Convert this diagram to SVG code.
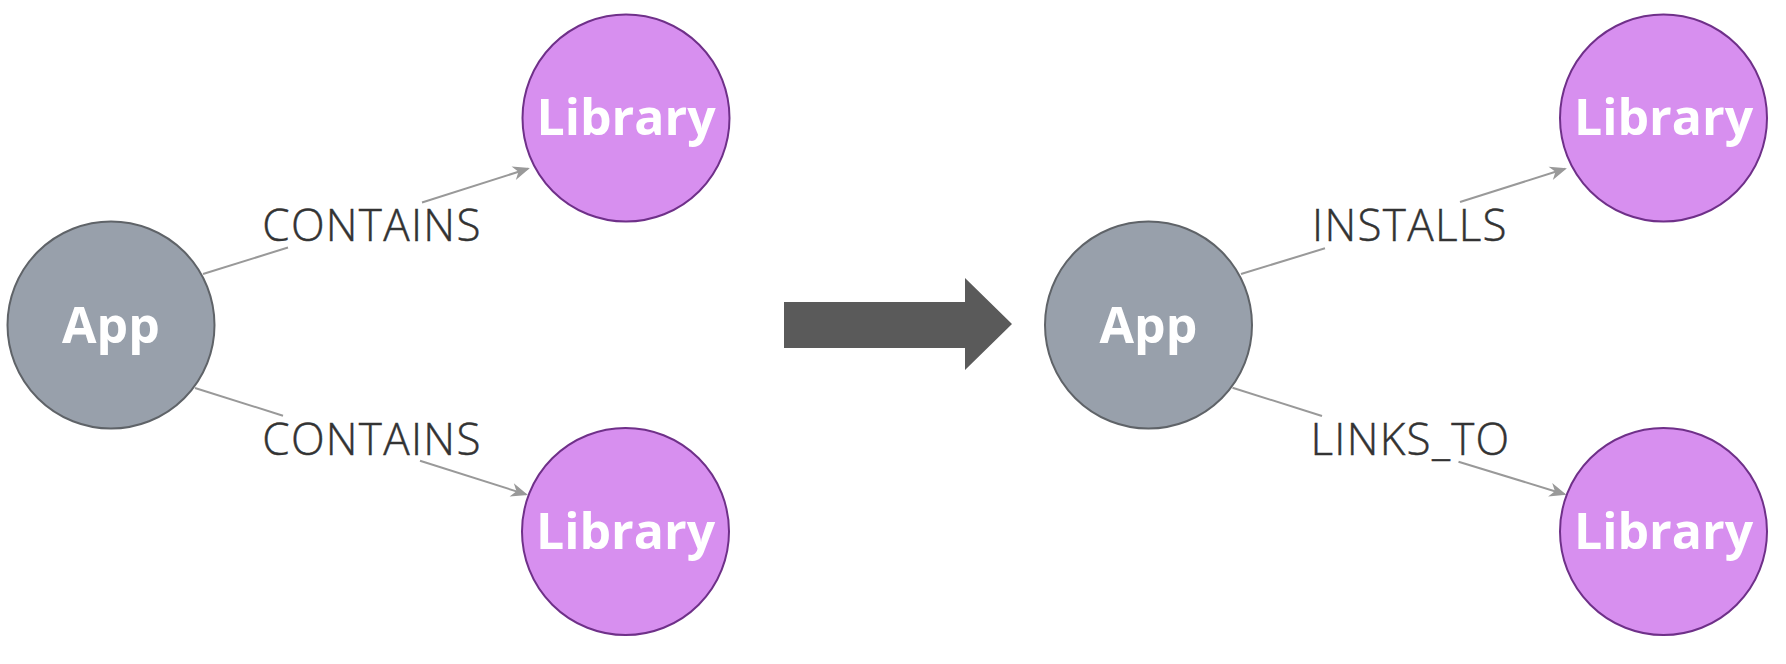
<svg xmlns="http://www.w3.org/2000/svg" width="1786" height="664" viewBox="0 0 1786 664">
<defs>
<style>
.app{fill:#98a0ab;stroke:#5f6368;stroke-width:2}
.lib{fill:#d78fef;stroke:#6f3089;stroke-width:2}
.nt{font-family:"Open Sans","Noto Sans",sans-serif;font-weight:bold;font-size:50px;fill:#ffffff;text-anchor:middle}
.el{font-family:"Open Sans","Noto Sans",sans-serif;font-weight:300;font-size:44px;fill:#333333;stroke:#333333;stroke-width:0.45;text-anchor:middle;letter-spacing:1.3px}
.edge{stroke:#999999;stroke-width:2;fill:none}
</style>
<marker id="ah" markerUnits="userSpaceOnUse" markerWidth="24" markerHeight="16" viewBox="-16 -8 20 16" refX="0" refY="0" orient="auto">
<path d="M2,0 L-15,-7 L-10,0 L-15,7 Z" fill="#999999"/>
</marker>
</defs>
<rect width="1786" height="664" fill="#ffffff"/>
<g id="connectors">
<line class="edge" x1="203" y1="274" x2="288" y2="247.5"/>
<line class="edge" x1="422" y1="202.5" x2="528" y2="168.7" marker-end="url(#ah)"/>
<text class="el" x="372" y="241">CONTAINS</text>
<line class="edge" x1="195" y1="388" x2="283" y2="415.7"/>
<line class="edge" x1="420" y1="460.7" x2="526" y2="494.4" marker-end="url(#ah)"/>
<text class="el" x="372" y="455">CONTAINS</text>
<line class="edge" x1="1241" y1="274" x2="1325" y2="248.3"/>
<line class="edge" x1="1460" y1="202" x2="1565" y2="168.8" marker-end="url(#ah)"/>
<text class="el" x="1410" y="241">INSTALLS</text>
<line class="edge" x1="1232.5" y1="387.7" x2="1322" y2="416"/>
<line class="edge" x1="1458.5" y1="461.7" x2="1564.5" y2="494.2" marker-end="url(#ah)"/>
<text class="el" x="1410.5" y="455">LINKS_TO</text>
</g>
<g id="transform-arrow">
<polygon points="784,302 965,302 965,278 1012,324 965,370 965,348 784,348" fill="#5a5a5a"/>
</g>
<g id="app-left">
<circle class="app" cx="111" cy="325" r="103.5"/>
<text class="nt" x="111" y="343">App</text>
</g>
<g id="lib-left-top">
<circle class="lib" cx="626" cy="118" r="103.5"/>
<text class="nt" x="626" y="135">Library</text>
</g>
<g id="lib-left-bottom">
<circle class="lib" cx="625.5" cy="531.5" r="103.5"/>
<text class="nt" x="625.5" y="549">Library</text>
</g>
<g id="app-right">
<circle class="app" cx="1148.5" cy="325" r="103.5"/>
<text class="nt" x="1148.5" y="343">App</text>
</g>
<g id="lib-right-top">
<circle class="lib" cx="1663.5" cy="118" r="103.5"/>
<text class="nt" x="1663.5" y="135">Library</text>
</g>
<g id="lib-right-bottom">
<circle class="lib" cx="1663.5" cy="531.5" r="103.5"/>
<text class="nt" x="1663.5" y="549">Library</text>
</g>
</svg>
